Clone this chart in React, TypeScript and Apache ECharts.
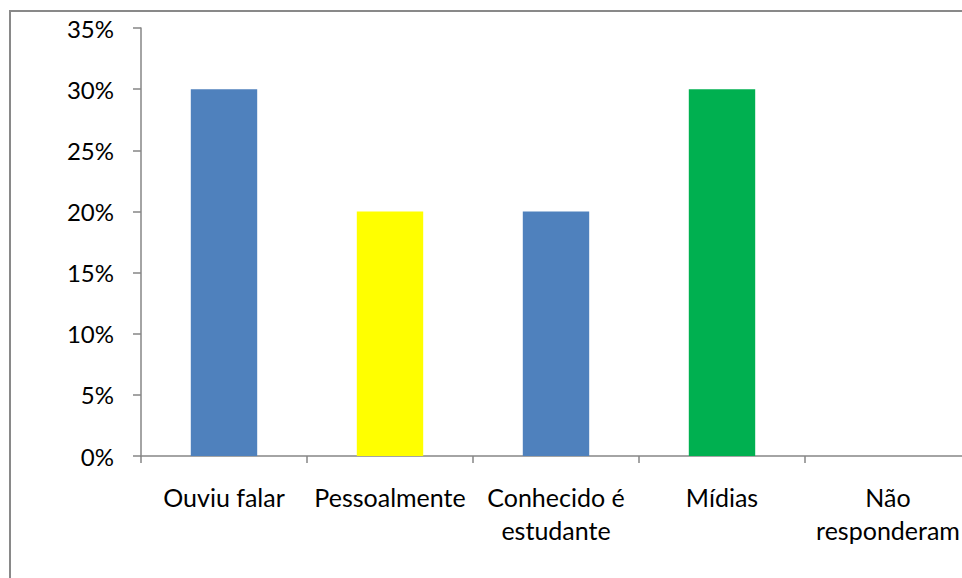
import React, { useEffect, useRef } from "react";
import * as echarts from "echarts";

const categories = ["Ouviu falar", "Pessoalmente", "Conhecido é\nestudante", "Mídias", "Não\nresponderam"];
const values = [30, 20, 20, 30, 0];
const barColors = ["#4F81BD", "#FFFF00", "#4F81BD", "#00B050", "#4F81BD"];

export default function App() {
  const ref = useRef<HTMLDivElement>(null);
  useEffect(() => {
    const chart = echarts.init(ref.current!, undefined, { renderer: "svg" });
    const font = "Lato, 'Open Sans', sans-serif";
    chart.setOption({
      animation: false,
      backgroundColor: "#ffffff",
      grid: { left: 141, right: 0, top: 28, bottom: 122, containLabel: false },
      graphic: [
        {
          type: "rect",
          shape: { x: 10, y: 11, width: 1000, height: 700 },
          style: { fill: "none", stroke: "#898989", lineWidth: 2 },
          z: -1,
        },
      ],
      xAxis: {
        type: "category",
        data: categories,
        axisLine: { lineStyle: { color: "#868686", width: 1.5 } },
        axisTick: { show: true, length: 7, lineStyle: { color: "#868686", width: 1.5 } },
        axisLabel: {
          interval: 0,
          margin: 24,
          color: "#000000",
          fontFamily: font,
          fontSize: 25,
          lineHeight: 33,
        },
      },
      yAxis: {
        type: "value",
        min: 0,
        max: 35,
        interval: 5,
        splitLine: { show: false },
        axisLine: { show: true, lineStyle: { color: "#868686", width: 1.5 } },
        axisTick: { show: true, length: 8, lineStyle: { color: "#868686", width: 1.5 } },
        axisLabel: {
          margin: 27,
          color: "#000000",
          fontFamily: font,
          fontSize: 24,
          formatter: "{value}%",
        },
      },
      series: [
        {
          type: "bar",
          barWidth: "40%",
          data: values.map((v, i) => ({ value: v, itemStyle: { color: barColors[i] } })),
        },
      ],
    });
    return () => chart.dispose();
  }, []);
  return (
    <div style={{ position: "fixed", left: 0, top: 0, width: 962, height: 578, overflow: "hidden" }}>
      <div ref={ref} style={{ width: 971, height: 578 }} />
    </div>
  );
}
